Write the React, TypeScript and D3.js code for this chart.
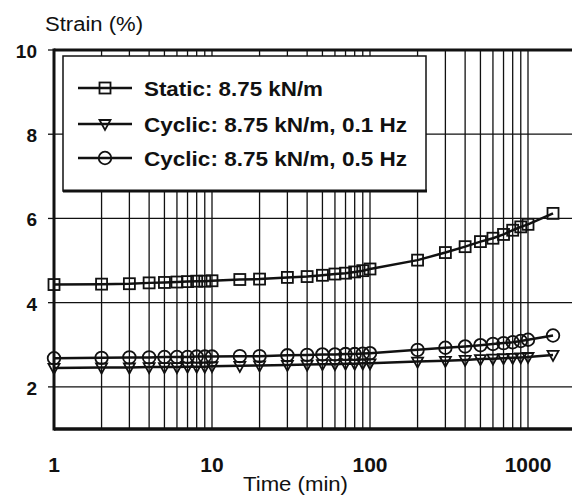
import React from "react";
import * as d3 from "d3";

const timeMin = [1, 2, 3, 4, 5, 6, 7, 8, 9, 10, 15, 20, 30, 40, 50, 60, 70, 80, 90, 100, 200, 300, 400, 500, 600, 700, 800, 900, 1000, 1440];
const staticStrain = [4.43, 4.44, 4.45, 4.47, 4.48, 4.49, 4.5, 4.51, 4.51, 4.52, 4.55, 4.56, 4.6, 4.62, 4.65, 4.68, 4.7, 4.73, 4.76, 4.8, 5.01, 5.19, 5.33, 5.45, 5.53, 5.62, 5.72, 5.8, 5.86, 6.12];
const cyclic01Strain = [2.45, 2.46, 2.46, 2.47, 2.47, 2.47, 2.48, 2.48, 2.48, 2.49, 2.5, 2.51, 2.52, 2.53, 2.54, 2.54, 2.55, 2.55, 2.56, 2.56, 2.6, 2.62, 2.64, 2.66, 2.67, 2.68, 2.69, 2.7, 2.71, 2.76];
const cyclic05Strain = [2.68, 2.69, 2.7, 2.7, 2.71, 2.71, 2.71, 2.72, 2.72, 2.72, 2.73, 2.73, 2.75, 2.76, 2.77, 2.77, 2.78, 2.78, 2.79, 2.8, 2.88, 2.93, 2.96, 2.99, 3.02, 3.04, 3.06, 3.09, 3.12, 3.22];

const seriesNames = ["Static: 8.75 kN/m", "Cyclic: 8.75 kN/m, 0.1 Hz", "Cyclic: 8.75 kN/m, 0.5 Hz"];
const xTickLabels = [1, 10, 100, 1000];
const yTickLabels = [2, 4, 6, 8, 10];

const W = 572;
const H = 498;
const FONT = "'Liberation Sans', Arial, sans-serif";

type Shape = "square" | "triangle" | "circle";

function Marker({ x, y, shape }: { x: number; y: number; shape: Shape }) {
  const common = { fill: "none", stroke: "#111", strokeWidth: 1.8 };
  if (shape === "square") return <rect x={x - 5.5} y={y - 5.5} width={11} height={11} {...common} />;
  if (shape === "circle") return <circle cx={x} cy={y} r={6.3} {...common} />;
  // inverted triangle
  return <path d={`M${x - 5.5},${y - 4} L${x + 5.5},${y - 4} L${x},${y + 6} Z`} {...common} />;
}

export default function App() {
  const x = d3.scaleLog().domain([1, 2000]).range([54, 54 + 158 * Math.log10(2000)]);
  const y = d3.scaleLinear().domain([1, 10]).range([429, 50]);

  const series: { name: string; values: number[]; shape: Shape; textW: number }[] = [
    { name: seriesNames[0], values: staticStrain, shape: "square", textW: 179 },
    { name: seriesNames[1], values: cyclic01Strain, shape: "triangle", textW: 263 },
    { name: seriesNames[2], values: cyclic05Strain, shape: "circle", textW: 263 },
  ];

  const line = d3
    .line<number>()
    .x((_, i) => x(timeMin[i]))
    .y((v) => y(v));

  // minor log grid: 2..9, 20..90, 200..900, 1000
  const gridX = x.ticks().filter((t) => t > 1 && x(t) < W);
  const legendRows = [88, 124, 158];

  return (
    <svg
      width={W}
      height={H}
      style={{ position: "absolute", left: 0, top: 0, background: "#fff" }}
      fontFamily={FONT}
    >
      {/* vertical grid */}
      {gridX.map((t, i) => (
        <line key={i} x1={x(t)} x2={x(t)} y1={50} y2={429} stroke="#111" strokeWidth={1.3} />
      ))}

      {/* horizontal grid */}
      {yTickLabels
        .filter((t) => t < 10)
        .map((t) => (
          <line key={t} x1={54} x2={W} y1={y(t)} y2={y(t)} stroke="#111" strokeWidth={1.3} />
        ))}

      {/* frame */}
      <line x1={54} x2={W} y1={y(10)} y2={y(10)} stroke="#111" strokeWidth={3} />
      <line x1={54} x2={W} y1={y(1)} y2={y(1)} stroke="#111" strokeWidth={3.5} />
      <line x1={54} x2={54} y1={y(10) - 1.5} y2={y(1) + 1.5} stroke="#111" strokeWidth={3} />

      {/* y ticks and labels */}
      {yTickLabels.map((t) => (
        <g key={t}>
          <line x1={48} x2={54} y1={y(t)} y2={y(t)} stroke="#111" strokeWidth={1.3} />
          <text x={37} y={y(t) + 8} textAnchor="end" fontSize={19} fontWeight="bold" fill="#111">
            {t}
          </text>
        </g>
      ))}

      {/* x labels */}
      {xTickLabels.map((t) => (
        <text key={t} x={x(t)} y={472} textAnchor="middle" fontSize={21} fontWeight="bold" fill="#111">
          {t}
        </text>
      ))}

      <text x={45} y={31} fontSize={20} fill="#111" textLength={98} lengthAdjust="spacingAndGlyphs">
        Strain (%)
      </text>
      <text x={243} y={491} fontSize={21} fill="#111" textLength={105} lengthAdjust="spacingAndGlyphs">
        Time (min)
      </text>

      {/* legend box */}
      <rect x={63} y={56} width={363} height={135} fill="#fff" stroke="#111" strokeWidth={1.5} />
      <line x1={63} x2={427} y1={191} y2={191} stroke="#111" strokeWidth={3} />
      {series.map((s, i) => (
        <g key={s.name}>
          <line x1={78} x2={132} y1={legendRows[i]} y2={legendRows[i]} stroke="#111" strokeWidth={2.5} />
          <Marker x={105} y={legendRows[i]} shape={s.shape} />
          <text
            x={144}
            y={legendRows[i] + 8}
            fontSize={21}
            fontWeight="bold"
            fill="#111"
            textLength={s.textW}
            lengthAdjust="spacingAndGlyphs"
          >
            {s.name}
          </text>
        </g>
      ))}

      {/* series */}
      {series.map((s) => (
        <g key={s.name}>
          <path d={line(s.values) ?? ""} fill="none" stroke="#111" strokeWidth={2.5} />
          {s.values.map((v, i) => (
            <Marker key={i} x={x(timeMin[i])} y={y(v)} shape={s.shape} />
          ))}
        </g>
      ))}
    </svg>
  );
}
